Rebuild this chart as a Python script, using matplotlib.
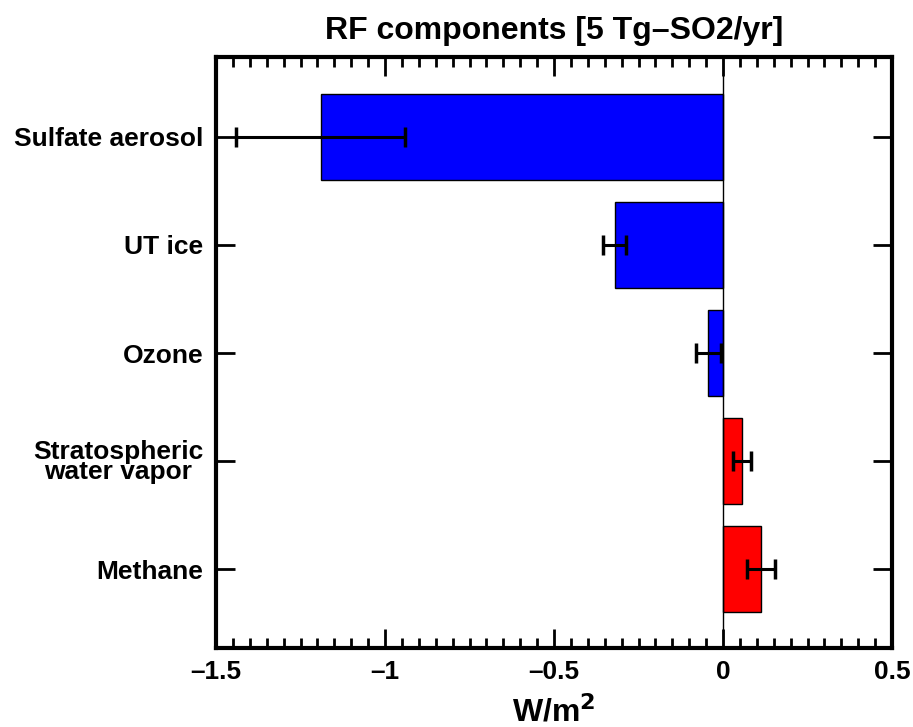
import matplotlib
matplotlib.use('Agg')
import matplotlib.pyplot as plt
from matplotlib.ticker import MultipleLocator
import numpy as np

plt.rcParams['font.family'] = ['Liberation Sans', 'DejaVu Sans']
plt.rcParams['font.weight'] = 'bold'

categories = ['Sulfate aerosol', 'UT ice', 'Ozone', 'Stratospheric\nwater vapor', 'Methane']
values = [-1.19, -0.32, -0.044, 0.057, 0.112]
errors = [0.25, 0.034, 0.037, 0.027, 0.042]
xtick_vals = [-1.5, -1, -0.5, 0, 0.5]
xtick_labels = ['\u20131.5', '\u20131', '\u20130.5', '0', '0.5']
colors = ['#0000ff' if v < 0 else '#ff0000' for v in values]

fig = plt.figure(figsize=(9.13, 7.27), dpi=100)
ax = fig.add_axes([0.2366, 0.1087, 0.7404, 0.8129])

pos = np.arange(len(categories))
ax.barh(pos, values, height=0.8, color=colors, edgecolor='black', linewidth=1.0, zorder=2)
ax.errorbar(values, pos, xerr=errors, fmt='none', ecolor='black', elinewidth=2.2,
            capsize=7.5, capthick=2.5, zorder=3)
ax.axvline(0, color='black', linewidth=1.0, zorder=4)

ax.set_xlim(-1.5, 0.5)
ax.set_ylim(4.73, -0.74)
ax.set_yticks(pos)
ax.set_yticklabels(categories, multialignment='center', linespacing=0.8)
ax.set_xticks(xtick_vals)
ax.set_xticklabels(xtick_labels)
ax.xaxis.set_minor_locator(MultipleLocator(0.05))

ax.tick_params(axis='both', which='major', direction='in', length=14, width=2,
               top=True, right=True, labelsize=19, pad=9)
ax.tick_params(axis='x', which='minor', direction='in', length=7, width=2, top=True)
ax.tick_params(axis='y', which='minor', left=False, right=False)
for s in ax.spines.values():
    s.set_linewidth(3)

ax.set_title('RF components [5 Tg\u2013SO2/yr]', fontsize=23, fontweight='bold', pad=13)
ax.set_xlabel('W/m$^\\mathbf{2}$', fontsize=23, fontweight='bold', labelpad=8)

fig.savefig('out.png', dpi=100)
